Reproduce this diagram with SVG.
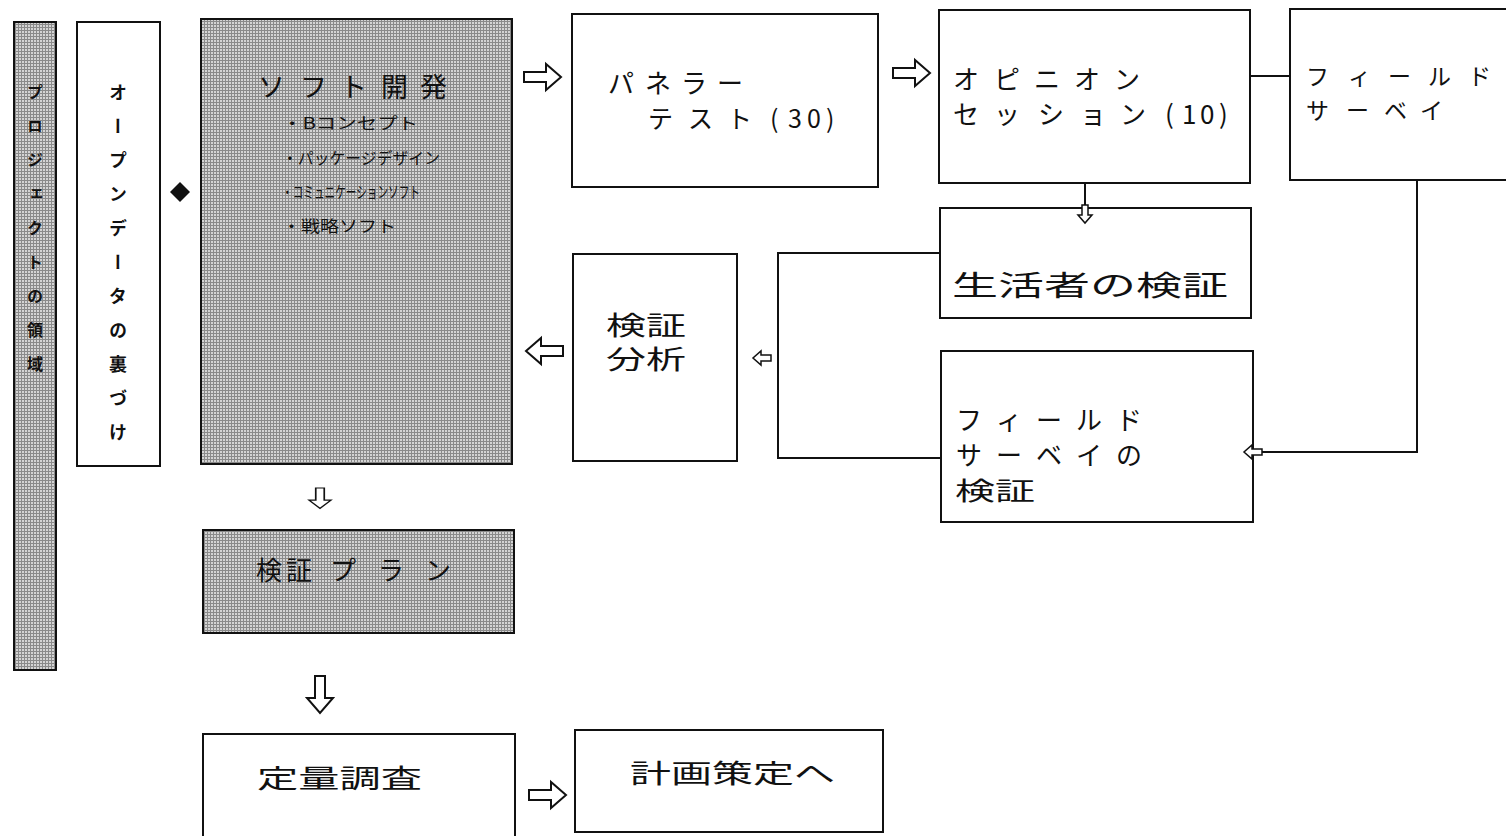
<svg xmlns="http://www.w3.org/2000/svg" width="1506" height="836" viewBox="0 0 1506 836">
<style>
.box{fill:#fff;stroke:#111;stroke-width:2}
.sh{fill:url(#grid);stroke:#111;stroke-width:2}
.t{font-family:"Noto Sans CJK JP","Noto Sans CJK SC",sans-serif;fill:#111}
.ln{fill:none;stroke:#111;stroke-width:2}
.ar{fill:#fff;stroke:#111;stroke-width:2;stroke-linejoin:miter}
.ars{fill:#fff;stroke:#111;stroke-width:1.5;stroke-linejoin:miter}
</style>
<defs>
<pattern id="grid" width="3" height="3" patternUnits="userSpaceOnUse">
<rect width="3" height="3" fill="#d4d4d4"/>
<path d="M0,0.5H3M0.5,0V3" stroke="#8a8a8a" stroke-width="1"/>
</pattern>
<path id="arR" d="M0,-5H22V-13L37,0L22,13V5H0Z"/>
<path id="arRs" d="M0,-3H10V-7L18,0L10,7V3H0Z"/>
</defs>
<rect width="1506" height="836" fill="#fff"/>

<g id="n-area">
<rect class="sh" x="14" y="22" width="42" height="648"/>
<text class="t" x="35" y="84" font-size="16" font-weight="bold" style="writing-mode:vertical-rl" letter-spacing="18">プロジェクトの領域</text>
</g>
<g id="n-opendata">
<rect class="box" x="77" y="22" width="83" height="444"/>
<text class="t" x="118" y="83" font-size="18" font-weight="bold" style="writing-mode:vertical-rl" letter-spacing="16">オープンデータの裏づけ</text>
</g>
<g id="n-soft">
<rect class="sh" x="201" y="19" width="311" height="445"/>
<text class="t" x="258 300 340 381 420" y="97" font-size="27">ソフト開発</text>
<text class="t" x="282" y="129" font-size="16" textLength="136" lengthAdjust="spacingAndGlyphs">・Bコンセプト</text>
<text class="t" x="282" y="164" font-size="16" textLength="158" lengthAdjust="spacingAndGlyphs">・パッケージデザイン</text>
<text class="t" x="282" y="198" font-size="16" textLength="138" lengthAdjust="spacingAndGlyphs">・コミュニケーションソフト</text>
<text class="t" x="282" y="232" font-size="16" textLength="114" lengthAdjust="spacingAndGlyphs">・戦略ソフト</text>
</g>
<g id="n-panel">
<rect class="box" x="572" y="14" width="306" height="173"/>
<text class="t" x="608 645 681 717" y="93" font-size="26">パネラー</text>
<text class="t" x="648 688 727 760 770 788 807 826" y="128" font-size="25">テスト (30)</text>
</g>
<g id="n-opinion">
<rect class="box" x="939" y="10" width="311" height="173"/>
<text class="t" x="953 994 1034 1074 1114" y="89" font-size="26">オピニオン</text>
<text class="t" x="953 994 1038 1080 1120 1165 1182 1200 1219" y="124" font-size="26">セッション(10)</text>
</g>
<g id="n-field">
<rect class="box" x="1290" y="9" width="230" height="171"/>
<text class="t" x="1306 1348 1388 1428 1468" y="85" font-size="23">フィールド</text>
<text class="t" x="1306 1346 1384 1420" y="119" font-size="23">サーベイ</text>
</g>
<g id="n-consumer">
<rect class="box" x="940" y="208" width="311" height="110"/>
<text class="t" x="952" y="296" font-size="28" textLength="276" lengthAdjust="spacingAndGlyphs">生活者の検証</text>
</g>
<g id="n-fieldver">
<rect class="box" x="941" y="351" width="312" height="171"/>
<text class="t" x="956 996 1036 1076 1116" y="430" font-size="26">フィールド</text>
<text class="t" x="956 996 1036 1076 1116" y="465" font-size="26">サーベイの</text>
<text class="t" x="955" y="500" font-size="25" textLength="80" lengthAdjust="spacingAndGlyphs">検証</text>
</g>
<g id="n-analysis">
<rect class="box" x="573" y="254" width="164" height="207"/>
<text class="t" x="606" y="335" font-size="26" textLength="80" lengthAdjust="spacingAndGlyphs">検証</text>
<text class="t" x="606" y="369" font-size="26" textLength="80" lengthAdjust="spacingAndGlyphs">分析</text>
</g>
<g id="n-plan">
<rect class="sh" x="203" y="530" width="311" height="103"/>
<text class="t" x="256 286 330 378 425" y="580" font-size="26">検証プラン</text>
</g>
<g id="n-quant">
<rect class="box" x="203" y="734" width="312" height="110"/>
<text class="t" x="257" y="788" font-size="26" textLength="165" lengthAdjust="spacingAndGlyphs">定量調査</text>
</g>
<g id="n-planning">
<rect class="box" x="575" y="730" width="308" height="102"/>
<text class="t" x="630" y="783" font-size="26" textLength="205" lengthAdjust="spacingAndGlyphs">計画策定へ</text>
</g>

<g id="connectors">
<use href="#arR" class="ar" transform="translate(524,77)"/>
<use href="#arR" class="ar" transform="translate(893,73)"/>
<path class="ln" d="M1250,76H1290"/>
<path class="ln" d="M1085,183V206" stroke-width="1.5"/>
<use href="#arRs" class="ars" transform="translate(1085,205) rotate(90)"/>
<path class="ln" d="M1417,180V452H1260"/>
<use href="#arRs" class="ars" transform="translate(1262,452) rotate(180)"/>
<path class="ln" d="M940,253H778V458H941"/>
<use href="#arRs" class="ars" transform="translate(771,358) rotate(180)"/>
<use href="#arR" class="ar" transform="translate(563,351) rotate(180)"/>
<use href="#arR" class="ar" transform="translate(320,488) rotate(90) scale(0.55,0.85)"/>
<use href="#arR" class="ar" transform="translate(320,676) rotate(90)"/>
<use href="#arR" class="ar" transform="translate(529,795)"/>
<path d="M180,182L190,192L180,202L170,192Z" fill="#111"/>
</g>
</svg>
